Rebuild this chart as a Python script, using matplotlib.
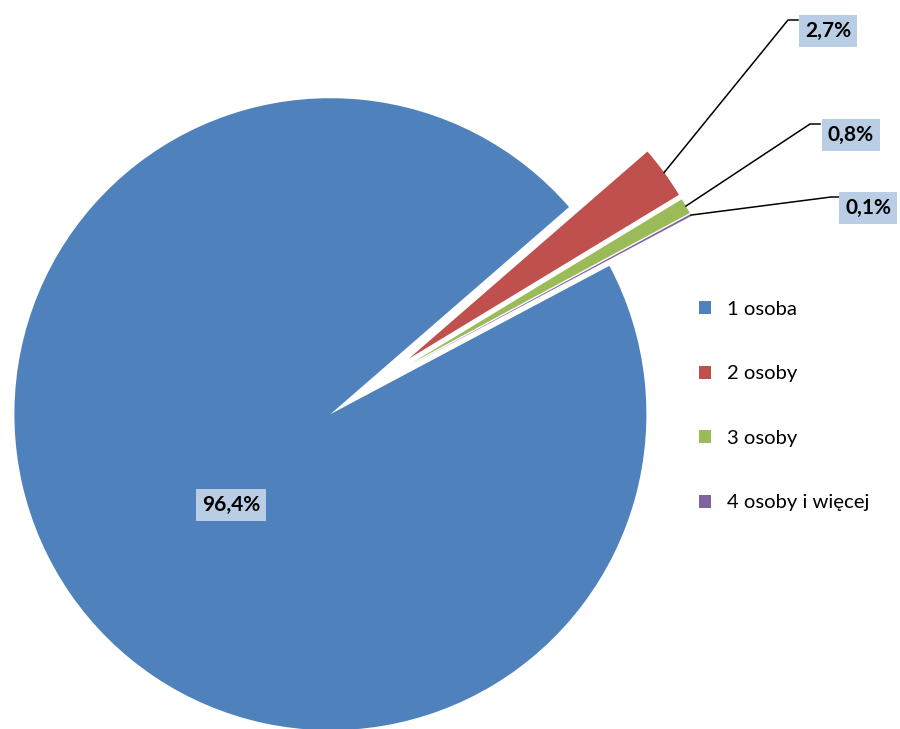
import numpy as np
import matplotlib
matplotlib.use("Agg")
import matplotlib.pyplot as plt

plt.rcParams['font.family'] = ['Lato', 'DejaVu Sans']

# data
categories = ['1 osoba', '2 osoby', '3 osoby', '4 osoby i więcej']
shares = [96.4, 2.7, 0.8, 0.1]
share_labels = ['96,4%', '2,7%', '0,8%', '0,1%']
colors = ['#4f81bd', '#c0504d', '#9bbb59', '#8064a2']

W, H = 900, 729
CX, CY, R = 370, 387, 316  # pie centre / radius in pixels


def px(x, y):
    """pixel (from top-left) -> data coords, radius = 1"""
    return (x - CX) / R, (CY - y) / R


fig = plt.figure(figsize=(W / 100, H / 100), dpi=100)
ax = fig.add_axes([0, 0, 1, 1])

wedges, _ = ax.pie(shares, colors=colors, startangle=28, counterclock=False,
                   explode=[0.152] * 4, radius=1, center=(0, 0),
                   wedgeprops=dict(linewidth=0))

x0, y0 = px(0, H)
x1, y1 = px(W, 0)
ax.set_xlim(x0, x1)
ax.set_ylim(y0, y1)
ax.axis('off')

box = dict(boxstyle='square,pad=0.3', facecolor='#b9cde5', edgecolor='none')

# big slice label
lx, ly = px(231, 505)
ax.text(lx, ly, share_labels[0], ha='center', va='center', fontsize=15,
        fontweight='bold', bbox=box)

# small slices: labels with leader lines
label_pos = [(828, 31), (851, 135), (868, 208)]
box_left = [798, 820, 841]
for w, txt, (tx, ty), bl in zip(wedges[1:], share_labels[1:], label_pos, box_left):
    mid = np.deg2rad((w.theta1 + w.theta2) / 2)
    ax_, ay_ = w.center[0] + w.r * np.cos(mid), w.center[1] + w.r * np.sin(mid)
    cx_, cy_ = px(bl - 10, ty - 11)
    ex_, ey_ = px(bl, ty - 11)
    ax.plot([ax_, cx_, ex_], [ay_, cy_, ey_], color='black', lw=1.1)
    tx_, ty_ = px(tx, ty)
    ax.text(tx_, ty_, txt, ha='center', va='center', fontsize=15,
            fontweight='bold', bbox=box, zorder=5)

ax.legend(wedges, categories, loc='upper left',
          bbox_to_anchor=(699 / W, 1 - 301 / H), bbox_transform=fig.transFigure,
          frameon=False, handlelength=0.6, handleheight=0.6,
          handletextpad=0.8, labelspacing=2.34, borderpad=0, borderaxespad=0,
          fontsize=14.6)

fig.savefig('out.png', dpi=100)
